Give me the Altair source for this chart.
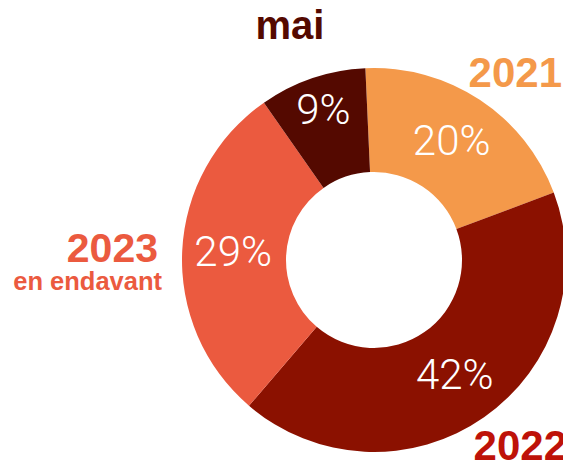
import math
import altair as alt
import pandas as pd

# Data
categories = ["2021", "2022", "2023", "mai"]
shares = [20, 42, 29, 9]
pct_labels = ["20%", "42%", "29%", "9%"]
slice_colors = ["#F4994A", "#8B1100", "#EB5A3F", "#540900"]

df = pd.DataFrame({
    "cat": categories,
    "value": shares,
    "label": pct_labels,
    "idx": list(range(len(categories))),
})

W, H = 555, 452
CX, CY = 366, 252
START = -0.045
TOTAL = sum(shares)

theta_scale = alt.Scale(domain=[0, TOTAL], range=[START, START + 2 * math.pi])
color = alt.Color("cat:N", scale=alt.Scale(domain=categories, range=slice_colors), legend=None)

arcs = alt.Chart(df).mark_arc(outerRadius=192, innerRadius=88, stroke=None).encode(
    theta=alt.Theta("value:Q", stack=True, scale=theta_scale),
    order=alt.Order("idx:Q"),
    color=color, x=alt.value(CX), y=alt.value(CY)
)

txt_base = alt.Chart(df).transform_window(
    cum="sum(value)", sort=[alt.SortField("idx")]
).transform_calculate(mid="datum.cum - datum.value / 2")

def pct_layer(cond, r):
    return txt_base.transform_filter(cond).mark_text(
        radius=r, font="Roboto", fontWeight=300, fontSize=42, color="white",
        align="center", baseline="middle"
    ).encode(
        theta=alt.Theta("mid:Q", stack=None, scale=theta_scale),
        text="label:N", x=alt.value(CX), y=alt.value(CY)
    )

pct_main = pct_layer(alt.datum.cat != "mai", 141)
pct_mai = pct_layer(alt.datum.cat == "mai", 157)

# Outside category labels
lab_df = pd.DataFrame({"t": ["x"]})

def lab(text, x, y, color, size, align):
    return alt.Chart(lab_df).mark_text(
        text=text, font="Liberation Sans", fontWeight="bold", fontSize=size,
        color=color, align=align, baseline="alphabetic"
    ).encode(x=alt.value(x), y=alt.value(y))

labels = [
    lab("mai", 282, 31, "#540900", 40, "center"),
    lab("2021", 554, 79, "#F4994A", 42, "right"),
    lab("2022", 559, 452, "#BE1209", 42, "right"),
    lab("2023", 150, 253.5, "#EB5A3F", 41, "right"),
    lab("en endavant", 154, 282, "#EB5A3F", 25.5, "right"),
]

chart = alt.layer(arcs, pct_main, pct_mai, *labels).properties(
    width=W, height=H, autosize="none", padding=0
).configure_view(stroke=None)

chart.save("out.html", embed_options={"renderer": "svg", "actions": False})
